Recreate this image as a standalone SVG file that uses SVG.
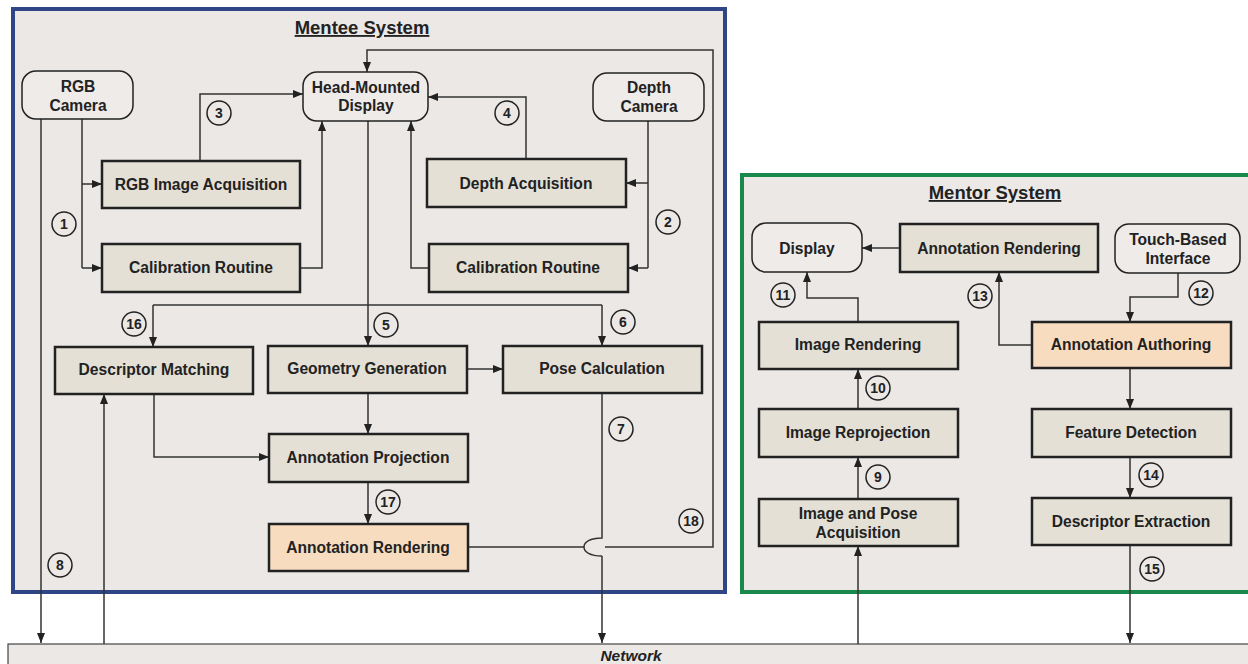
<svg xmlns="http://www.w3.org/2000/svg" width="1248" height="664" viewBox="0 0 1248 664">
<style>
text{font-family:"Liberation Sans",Arial,sans-serif;font-weight:bold;fill:#222}
.lbl{font-size:15.6px;text-anchor:middle}
.proc{fill:#e4e0d6;stroke:#222;stroke-width:2.5}
.orange{fill:#f7dcc0;stroke:#222;stroke-width:2.5}
.dev{fill:#eeebe9;stroke:#222;stroke-width:1.5}
.ln{fill:none;stroke:#333;stroke-width:1.5}
.arr{marker-end:url(#ah)}
.num circle{fill:none;stroke:#222;stroke-width:1.5}
.num text{font-size:14px;text-anchor:middle}
.title{font-size:18.5px;text-anchor:middle;text-decoration:underline}
</style>
<defs>
<marker id="ah" markerUnits="userSpaceOnUse" markerWidth="10" markerHeight="10" viewBox="0 0 10 10" refX="10" refY="5" orient="auto">
<path d="M0,1 L10,5 L0,9 Z" fill="#222"/>
</marker>
</defs>
<rect width="1248" height="664" fill="#fff"/>
<!-- system frames -->
<g id="mentee-system">
<rect x="13" y="9" width="712" height="583" fill="#ebe8e6" stroke="#2f4585" stroke-width="4"/>
<text class="title" x="362" y="34">Mentee System </text>
</g>
<g id="mentor-system">
<rect x="742" y="175" width="510" height="417" fill="#ebe8e6" stroke="#198a4b" stroke-width="4"/>
<text class="title" x="995" y="199">Mentor System</text>
</g>
<g id="network">
<rect x="8" y="644" width="1250" height="30" fill="#ebe8e6" stroke="#444" stroke-width="1.2"/>
<text x="631" y="661" style="font-size:15.5px;font-style:italic;text-anchor:middle">Network</text>
</g>
<!-- connectors -->
<g id="connectors">
<path class="ln" d="M82 119 V268"/>
<path class="ln arr" d="M82 184 H102"/>
<path class="ln arr" d="M82 268 H102"/>
<path class="ln arr" d="M41 119 V643"/>
<path class="ln arr" d="M200 161 V94 H303"/>
<path class="ln arr" d="M300 268 H322 V121"/>
<path class="ln" d="M648 121 V268"/>
<path class="ln arr" d="M648 183 H626"/>
<path class="ln arr" d="M648 268 H628"/>
<path class="ln arr" d="M526 159 V97 H428"/>
<path class="ln arr" d="M429 268 H411 V121"/>
<path class="ln arr" d="M368 121 V346"/>
<path class="ln" d="M153 305 H602"/>
<path class="ln arr" d="M153 305 V347"/>
<path class="ln arr" d="M602 305 V346"/>
<path class="ln arr" d="M467 369 H503"/>
<path class="ln arr" d="M368 393 V434"/>
<path class="ln arr" d="M154 394 V457 H269"/>
<path class="ln arr" d="M104 644 V394"/>
<path class="ln arr" d="M368 482 V524"/>
<path class="ln" d="M602 393 V538 C590 538 584 542 584 547 C584 552 590 556 602 556"/>
<path class="ln arr" d="M602 556 V643"/>
<path class="ln" d="M468 547 H584"/>
<path class="ln arr" d="M605 547 H713 V50 H367 V72"/>
<path class="ln arr" d="M900 248 H862"/>
<path class="ln arr" d="M1178 273 V297 H1130 V322"/>
<path class="ln arr" d="M1032 345 H999 V272"/>
<path class="ln arr" d="M858 322 V298 H807 V272"/>
<path class="ln arr" d="M858 409 V369"/>
<path class="ln arr" d="M1130 368 V409"/>
<path class="ln arr" d="M858 499 V457"/>
<path class="ln arr" d="M858 644 V546"/>
<path class="ln arr" d="M1130 457 V498"/>
<path class="ln arr" d="M1130 545 V643"/>
</g>
<!-- nodes -->
<g id="rgb-camera"><rect class="dev" x="22" y="71" width="111" height="48" rx="14"/><text class="lbl" x="78" y="92">RGB</text><text class="lbl" x="78" y="111">Camera</text></g>
<g id="hmd"><rect class="dev" x="303" y="72" width="125" height="49" rx="14"/><text class="lbl" x="366" y="93">Head-Mounted</text><text class="lbl" x="366" y="111">Display</text></g>
<g id="depth-camera"><rect class="dev" x="593" y="73" width="111" height="48" rx="14"/><text class="lbl" x="649" y="93">Depth</text><text class="lbl" x="649" y="112">Camera</text></g>
<g id="rgb-acq"><rect class="proc" x="102" y="161" width="198" height="47"/><text class="lbl" x="201" y="190">RGB Image Acquisition</text></g>
<g id="cal-left"><rect class="proc" x="102" y="244" width="198" height="48"/><text class="lbl" x="201" y="273">Calibration Routine</text></g>
<g id="depth-acq"><rect class="proc" x="427" y="159" width="199" height="48"/><text class="lbl" x="526" y="189">Depth Acquisition</text></g>
<g id="cal-right"><rect class="proc" x="429" y="244" width="199" height="48"/><text class="lbl" x="528" y="273">Calibration Routine</text></g>
<g id="desc-match"><rect class="proc" x="55" y="347" width="198" height="47"/><text class="lbl" x="154" y="375">Descriptor Matching</text></g>
<g id="geom-gen"><rect class="proc" x="268" y="346" width="199" height="47"/><text class="lbl" x="367" y="374">Geometry Generation</text></g>
<g id="pose-calc"><rect class="proc" x="503" y="346" width="199" height="47"/><text class="lbl" x="602" y="374">Pose Calculation</text></g>
<g id="ann-proj"><rect class="proc" x="269" y="434" width="199" height="48"/><text class="lbl" x="368" y="463">Annotation Projection</text></g>
<g id="ann-render-mentee"><rect class="orange" x="269" y="524" width="199" height="47"/><text class="lbl" x="368" y="553">Annotation Rendering</text></g>
<g id="display"><rect class="dev" x="752" y="223" width="110" height="49" rx="14"/><text class="lbl" x="807" y="254">Display</text></g>
<g id="ann-render-mentor"><rect class="proc" x="900" y="224" width="198" height="48"/><text class="lbl" x="999" y="254">Annotation Rendering</text></g>
<g id="touch"><rect class="dev" x="1115" y="224" width="125" height="49" rx="14"/><text class="lbl" x="1178" y="245">Touch-Based</text><text class="lbl" x="1178" y="264">Interface</text></g>
<g id="img-render"><rect class="proc" x="759" y="322" width="199" height="47"/><text class="lbl" x="858" y="350">Image Rendering</text></g>
<g id="ann-author"><rect class="orange" x="1032" y="322" width="199" height="46"/><text class="lbl" x="1131" y="350">Annotation Authoring</text></g>
<g id="img-reproj"><rect class="proc" x="759" y="409" width="199" height="48"/><text class="lbl" x="858" y="438">Image Reprojection</text></g>
<g id="feat-det"><rect class="proc" x="1032" y="409" width="199" height="48"/><text class="lbl" x="1131" y="438">Feature Detection</text></g>
<g id="img-pose-acq"><rect class="proc" x="759" y="499" width="199" height="47"/><text class="lbl" x="858" y="519">Image and Pose</text><text class="lbl" x="858" y="538">Acquisition</text></g>
<g id="desc-extr"><rect class="proc" x="1032" y="498" width="199" height="47"/><text class="lbl" x="1131" y="527">Descriptor Extraction</text></g>
<!-- step numbers -->
<g id="step-numbers" class="num">
<g><circle cx="64" cy="224" r="12"/><text x="64" y="229">1</text></g>
<g><circle cx="668" cy="222" r="12"/><text x="668" y="227">2</text></g>
<g><circle cx="219" cy="113" r="12"/><text x="219" y="118">3</text></g>
<g><circle cx="507" cy="113" r="12"/><text x="507" y="118">4</text></g>
<g><circle cx="386" cy="325" r="12"/><text x="386" y="330">5</text></g>
<g><circle cx="623" cy="322" r="12"/><text x="623" y="327">6</text></g>
<g><circle cx="621" cy="429" r="12"/><text x="621" y="434">7</text></g>
<g><circle cx="60" cy="565" r="12"/><text x="60" y="570">8</text></g>
<g><circle cx="878" cy="477" r="12"/><text x="878" y="482">9</text></g>
<g><circle cx="878" cy="388" r="12"/><text x="878" y="393">10</text></g>
<g><circle cx="783" cy="295" r="12"/><text x="783" y="300">11</text></g>
<g><circle cx="1201" cy="293" r="12"/><text x="1201" y="298">12</text></g>
<g><circle cx="980" cy="296" r="12"/><text x="980" y="301">13</text></g>
<g><circle cx="1151" cy="475" r="12"/><text x="1151" y="480">14</text></g>
<g><circle cx="1152" cy="569" r="12"/><text x="1152" y="574">15</text></g>
<g><circle cx="134" cy="324" r="12"/><text x="134" y="329">16</text></g>
<g><circle cx="388" cy="502" r="12"/><text x="388" y="507">17</text></g>
<g><circle cx="691" cy="521" r="12"/><text x="691" y="526">18</text></g>
</g>
</svg>
